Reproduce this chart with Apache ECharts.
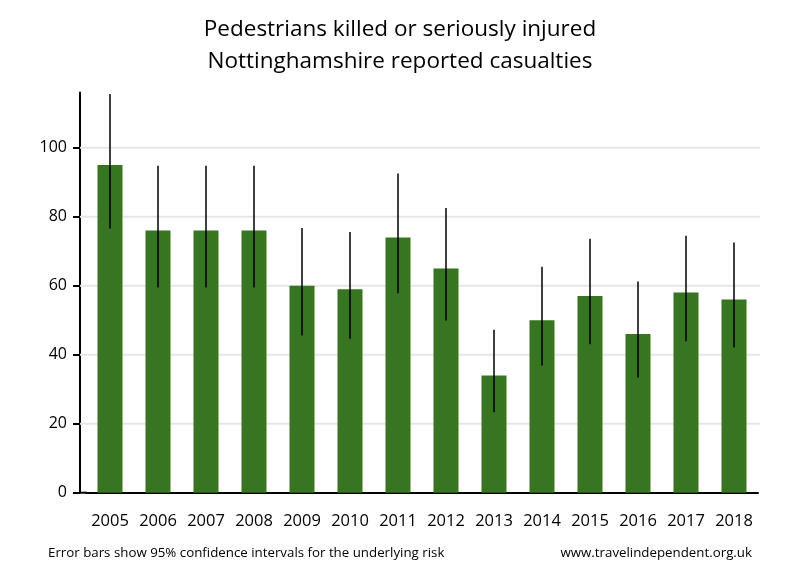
<!DOCTYPE html>
<html>
<head>
<meta charset="utf-8">
<script src="https://cdn.jsdelivr.net/npm/echarts@6/dist/echarts.min.js"></script>
<style>html,body{margin:0;padding:0;background:#fff;}#c{width:800px;height:580px;}</style>
</head>
<body>
<div id="c"></div>
<script>
const years = ['2005','2006','2007','2008','2009','2010','2011','2012','2013','2014','2015','2016','2017','2018'];
const values = [95, 76, 76, 76, 60, 59, 74, 65, 34, 50, 57, 46, 58, 56];
const lower = [76.6, 59.5, 59.5, 59.5, 45.6, 44.6, 57.8, 49.9, 23.3, 36.9, 43.0, 33.4, 43.9, 42.1];
const upper = [115.6, 94.8, 94.8, 94.8, 76.7, 75.6, 92.5, 82.5, 47.2, 65.5, 73.6, 61.2, 74.5, 72.5];
const yTicks = [0, 20, 40, 60, 80, 100];

const FONT = 'Open Sans';
const Y_OFFSET = 6;
const chart = echarts.init(document.getElementById('c'), null, {renderer: 'canvas'});
const errData = years.map((y, i) => [i, lower[i], upper[i]]);
const gridData = yTicks.filter(v => v > 0).map(v => [0, v]);
const footFont = '13.3px "Open Sans"';

function footer(extra) {
  return [
    {type: 'text', left: 48, top: 547, style: {text: 'Error bars show 95% confidence intervals for the underlying risk', font: footFont, fill: '#000'}},
    {type: 'text', right: 48, top: 547, style: {text: 'www.travelindependent.org.uk', font: footFont, fill: '#000'}}
  ].concat(extra || []);
}

chart.setOption({
  animation: false,
  backgroundColor: '#fff',
  title: {
    text: 'Pedestrians killed or seriously injured\nNottinghamshire reported casualties',
    left: 'center', top: 9,
    textStyle: {fontFamily: FONT, fontSize: 22.5, fontWeight: 'normal', color: '#000', lineHeight: 32}
  },
  graphic: footer(),
  grid: {left: 86, right: 42, top: 92.5, bottom: 87.3},
  xAxis: {
    type: 'category', data: years,
    axisLine: {lineStyle: {color: '#000', width: 2}},
    axisTick: {show: false},
    axisLabel: {fontFamily: FONT, fontSize: 16.5, color: '#000', margin: 20, interval: 0}
  },
  yAxis: {
    type: 'value', min: 0, max: 116, offset: Y_OFFSET,
    axisLine: {show: true, lineStyle: {color: '#000', width: 2}},
    axisTick: {show: true, length: 7, lineStyle: {color: '#000', width: 2}, customValues: yTicks},
    axisLabel: {fontFamily: FONT, fontSize: 16, color: '#000', margin: 13, customValues: yTicks},
    splitLine: {show: false}
  },
  series: [
    {
      type: 'custom', data: gridData, z: 1, silent: true, clip: false,
      renderItem: function (params, api) {
        const cs = params.coordSys;
        const y = api.coord([0, api.value(1)])[1];
        return {type: 'line', shape: {x1: cs.x - Y_OFFSET, y1: y, x2: cs.x + cs.width + 2, y2: y},
          style: {stroke: '#e6e6e6', lineWidth: 2}};
      }
    },
    {type: 'bar', data: values, barWidth: 25, itemStyle: {color: '#377521'}, z: 2},
    {
      type: 'custom', data: errData, z: 3,
      renderItem: function (params, api) {
        const x = api.value(0);
        const lo = api.coord([x, api.value(1)]);
        const hi = api.coord([x, api.value(2)]);
        return {type: 'line', shape: {x1: lo[0], y1: lo[1], x2: hi[0], y2: hi[1]},
          style: {stroke: '#000', lineWidth: 1.5}};
      }
    }
  ]
});

// extend the x axis baseline to meet the offset y axis line
const p0 = chart.convertToPixel({gridIndex: 0}, [0, 0]);
const gridRect = chart.getModel().getComponent('grid').coordinateSystem.getRect();
chart.setOption({
  graphic: footer([
    {type: 'line', shape: {x1: gridRect.x - Y_OFFSET - 1, y1: p0[1], x2: gridRect.x + 1, y2: p0[1]}, style: {stroke: '#000', lineWidth: 2}, z: 10}
  ])
});
</script>
</body>
</html>
